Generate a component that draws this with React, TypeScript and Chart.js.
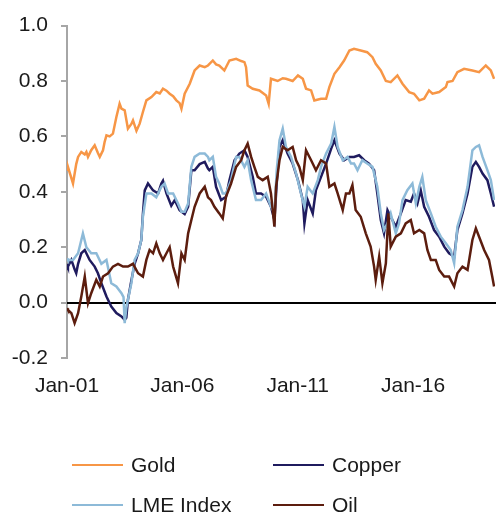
import React, { useEffect, useRef } from "react";
import { Chart, registerables } from "chart.js";

Chart.register(...registerables);

// ---- data (x = years since Jan-2001) ----
const seriesNames = ["Gold", "Copper", "LME Index", "Oil"];
const seriesColors = ["#F79646", "#1F1B5E", "#8DBAD8", "#5C1D0E"];
const tickYears = [0, 5, 10, 15];
const tickLabels = ["Jan-01", "Jan-06", "Jan-11", "Jan-16"];
const yMin = -0.2;
const yMax = 1.0;

const goldT = [0.00,0.04,0.15,0.26,0.40,0.48,0.62,0.77,0.84,0.91,1.05,1.20,1.34,1.42,1.56,1.63,1.71,1.85,1.99,2.14,2.28,2.36,2.50,2.64,2.79,2.86,3.01,3.15,3.29,3.44,3.66,3.87,4.02,4.16,4.31,4.45,4.60,4.74,4.88,4.96,5.10,5.32,5.53,5.75,5.97,6.11,6.32,6.46,6.60,6.82,7.04,7.33,7.55,7.69,7.76,7.83,8.05,8.34,8.63,8.74,8.84,9.13,9.35,9.49,9.78,10.01,10.22,10.36,10.58,10.72,11.01,11.23,11.37,11.59,11.81,12.01,12.24,12.44,12.73,13.01,13.24,13.38,13.60,13.82,14.03,14.32,14.54,14.83,15.04,15.27,15.48,15.69,15.84,16.13,16.42,16.49,16.71,16.92,17.21,17.57,17.86,18.15,18.37,18.51];
const goldV = [0.48,0.49,0.46,0.43,0.50,0.526,0.544,0.535,0.544,0.526,0.55,0.568,0.54,0.526,0.55,0.58,0.604,0.60,0.61,0.67,0.718,0.70,0.694,0.628,0.645,0.658,0.62,0.646,0.688,0.73,0.742,0.76,0.755,0.772,0.765,0.754,0.745,0.73,0.72,0.70,0.754,0.79,0.838,0.856,0.85,0.856,0.874,0.86,0.856,0.838,0.874,0.88,0.872,0.868,0.85,0.784,0.772,0.766,0.748,0.718,0.808,0.80,0.81,0.808,0.80,0.82,0.808,0.772,0.766,0.73,0.736,0.736,0.778,0.826,0.85,0.874,0.91,0.916,0.91,0.904,0.886,0.862,0.838,0.80,0.796,0.82,0.79,0.76,0.754,0.73,0.736,0.766,0.754,0.76,0.778,0.796,0.80,0.832,0.844,0.838,0.832,0.856,0.838,0.808];

const copperT = [0.00,0.04,0.19,0.33,0.40,0.48,0.62,0.77,0.98,1.20,1.34,1.49,1.71,1.92,2.14,2.36,2.50,2.57,2.64,2.79,2.93,3.08,3.22,3.29,3.37,3.51,3.73,3.95,4.09,4.16,4.31,4.52,4.67,4.88,5.10,5.25,5.39,5.53,5.75,5.97,6.11,6.17,6.32,6.46,6.68,6.89,7.04,7.26,7.47,7.69,7.83,8.05,8.19,8.41,8.63,8.84,8.99,9.09,9.21,9.35,9.56,9.78,10.01,10.22,10.29,10.43,10.65,10.79,11.01,11.23,11.45,11.59,11.81,12.01,12.24,12.44,12.66,12.88,13.09,13.31,13.45,13.60,13.74,13.89,14.03,14.25,14.47,14.68,14.90,15.04,15.19,15.33,15.48,15.69,15.91,16.13,16.35,16.56,16.78,16.92,17.14,17.36,17.57,17.72,17.86,18.01,18.22,18.37,18.51];
const copperV = [0.14,0.13,0.154,0.12,0.106,0.14,0.178,0.19,0.154,0.13,0.106,0.07,0.022,-0.014,-0.038,-0.05,-0.062,-0.055,0.01,0.08,0.14,0.178,0.226,0.32,0.405,0.43,0.405,0.394,0.43,0.44,0.394,0.35,0.37,0.334,0.32,0.346,0.478,0.478,0.50,0.508,0.484,0.478,0.49,0.418,0.37,0.382,0.442,0.514,0.538,0.55,0.526,0.454,0.394,0.394,0.382,0.346,0.298,0.43,0.562,0.586,0.538,0.502,0.442,0.37,0.286,0.37,0.322,0.406,0.454,0.502,0.556,0.586,0.538,0.514,0.526,0.526,0.532,0.514,0.502,0.478,0.394,0.298,0.25,0.334,0.31,0.274,0.322,0.37,0.364,0.394,0.358,0.406,0.346,0.31,0.262,0.238,0.202,0.178,0.166,0.262,0.322,0.394,0.49,0.508,0.49,0.466,0.442,0.394,0.346];

const lmeT = [0.00,0.04,0.26,0.48,0.69,0.84,1.05,1.27,1.49,1.71,1.92,2.14,2.36,2.45,2.50,2.57,2.64,2.79,2.93,3.08,3.22,3.29,3.44,3.66,3.87,4.09,4.23,4.38,4.60,4.81,4.96,5.10,5.25,5.39,5.53,5.75,5.97,6.11,6.17,6.32,6.46,6.60,6.75,6.89,7.11,7.33,7.47,7.69,7.83,7.98,8.19,8.41,8.63,8.84,8.99,9.09,9.21,9.35,9.49,9.71,9.93,10.14,10.29,10.43,10.65,10.87,11.01,11.23,11.45,11.59,11.73,11.95,12.16,12.31,12.44,12.59,12.80,13.01,13.24,13.45,13.60,13.74,13.89,14.03,14.25,14.39,14.54,14.75,14.97,15.12,15.27,15.40,15.55,15.77,15.98,16.20,16.42,16.63,16.78,16.92,17.14,17.36,17.57,17.72,17.86,18.01,18.22,18.37,18.51];
const lmeV = [0.16,0.154,0.154,0.178,0.25,0.20,0.178,0.178,0.14,0.154,0.07,0.058,0.034,0.02,-0.074,-0.02,0.01,0.07,0.154,0.178,0.226,0.31,0.394,0.394,0.38,0.418,0.43,0.394,0.394,0.358,0.328,0.328,0.358,0.49,0.526,0.538,0.538,0.526,0.514,0.526,0.454,0.43,0.394,0.394,0.442,0.526,0.526,0.49,0.514,0.442,0.37,0.37,0.394,0.346,0.322,0.478,0.586,0.628,0.562,0.526,0.466,0.394,0.346,0.418,0.394,0.442,0.49,0.538,0.574,0.634,0.562,0.514,0.526,0.502,0.502,0.478,0.514,0.502,0.49,0.418,0.322,0.262,0.286,0.322,0.25,0.286,0.37,0.406,0.43,0.358,0.418,0.454,0.37,0.322,0.274,0.238,0.214,0.19,0.142,0.274,0.334,0.418,0.55,0.562,0.568,0.526,0.478,0.442,0.37];

const oilT = [0.00,0.04,0.19,0.33,0.48,0.62,0.77,0.91,1.05,1.27,1.42,1.56,1.78,1.99,2.21,2.43,2.64,2.86,3.08,3.29,3.44,3.58,3.73,3.87,4.02,4.16,4.31,4.45,4.60,4.81,4.96,5.10,5.25,5.39,5.53,5.75,5.97,6.11,6.24,6.39,6.60,6.75,6.89,7.11,7.33,7.55,7.69,7.83,7.98,8.12,8.27,8.48,8.70,8.84,8.99,9.06,9.21,9.35,9.56,9.78,9.93,10.07,10.22,10.36,10.58,10.79,11.01,11.23,11.37,11.59,11.73,11.95,12.09,12.24,12.37,12.51,12.73,12.95,13.16,13.31,13.38,13.53,13.67,13.82,13.93,14.03,14.25,14.47,14.68,14.90,15.04,15.27,15.48,15.62,15.77,15.98,16.13,16.35,16.56,16.78,16.92,17.14,17.36,17.57,17.72,17.86,18.08,18.29,18.43,18.51];
const oilV = [-0.02,-0.026,-0.038,-0.074,-0.038,0.022,0.094,-0.002,0.034,0.082,0.058,0.094,0.106,0.13,0.14,0.13,0.13,0.14,0.106,0.094,0.154,0.19,0.178,0.214,0.178,0.154,0.178,0.2,0.13,0.07,0.178,0.154,0.25,0.298,0.346,0.394,0.418,0.38,0.37,0.346,0.322,0.304,0.382,0.43,0.49,0.514,0.55,0.574,0.526,0.49,0.454,0.442,0.454,0.394,0.274,0.418,0.514,0.562,0.55,0.562,0.514,0.49,0.442,0.55,0.514,0.478,0.514,0.502,0.418,0.43,0.394,0.334,0.394,0.394,0.424,0.334,0.31,0.25,0.202,0.13,0.082,0.166,0.07,0.142,0.322,0.202,0.238,0.25,0.286,0.298,0.25,0.262,0.25,0.19,0.154,0.154,0.118,0.094,0.094,0.058,0.106,0.13,0.118,0.226,0.268,0.238,0.19,0.154,0.094,0.058];

const seriesT = [goldT, copperT, lmeT, oilT];
const seriesV = [goldV, copperV, lmeV, oilV];
const drawOrder = [3, 2, 1, 0]; // oil on top

const FONT = "'Liberation Sans', Arial, sans-serif";

const zeroLine = {
  id: "zeroLine",
  beforeDatasetsDraw(chart: any) {
    const { ctx, chartArea, scales } = chart;
    const y = Math.round(scales.y.getPixelForValue(0));
    ctx.save();
    ctx.strokeStyle = "#000000";
    ctx.lineWidth = 2;
    ctx.beginPath();
    ctx.moveTo(chartArea.left, y);
    ctx.lineTo(chart.width, y);
    ctx.stroke();
    ctx.restore();
  },
};

const customLegend = {
  id: "customLegend",
  afterDraw(chart: any) {
    const { ctx } = chart;
    const cols = [72, 273];
    const rows = [465, 505];
    ctx.save();
    ctx.font = `21px ${FONT}`;
    ctx.textBaseline = "middle";
    ctx.textAlign = "left";
    chart.data.datasets.forEach((ds: any, i: number) => {
      const x = cols[i % 2];
      const y = rows[Math.floor(i / 2)];
      ctx.strokeStyle = ds.borderColor;
      ctx.lineWidth = 2;
      ctx.beginPath();
      ctx.moveTo(x, y);
      ctx.lineTo(x + 51, y);
      ctx.stroke();
      ctx.fillStyle = "#1a1a1a";
      ctx.fillText(ds.label, x + 59, y + 1);
    });
    ctx.restore();
  },
};

export default function App() {
  const ref = useRef<HTMLCanvasElement | null>(null);
  useEffect(() => {
    document.body.style.margin = "0";
    const canvas = ref.current;
    if (!canvas) return;
    const datasets = seriesNames.map((name, i) => ({
      label: name,
      data: seriesT[i].map((t, k) => ({ x: t, y: seriesV[i][k] })),
      borderColor: seriesColors[i],
      backgroundColor: seriesColors[i],
      borderWidth: 2.5,
      pointRadius: 0,
      tension: 0,
      order: drawOrder[i],
    }));
    const chart = new Chart(canvas, {
      type: "line",
      data: { datasets },
      plugins: [zeroLine, customLegend],
      options: {
        animation: false,
        responsive: false,
        devicePixelRatio: 1,
        layout: { padding: { left: 0, right: 1, top: 25, bottom: 0 } },
        plugins: { legend: { display: false }, tooltip: { enabled: false } },
        scales: {
          x: {
            type: "linear",
            min: 0,
            max: 18.55,
            grid: { display: false, drawTicks: false },
            border: { display: false },
            afterBuildTicks: (s: any) => {
              s.ticks = tickYears.map((v) => ({ value: v }));
            },
            afterFit: (s: any) => {
              s.height = 155;
            },
            ticks: {
              autoSkip: false,
              maxRotation: 0,
              padding: 16,
              color: "#1a1a1a",
              font: { family: FONT, size: 21 },
              callback: (v: any) => {
                const idx = tickYears.indexOf(Number(v));
                return idx >= 0 ? tickLabels[idx] : "";
              },
            },
          },
          y: {
            min: yMin,
            max: yMax,
            afterFit: (s: any) => {
              s.width = 67;
            },
            grid: {
              drawOnChartArea: false,
              drawTicks: true,
              tickLength: 6,
              color: "#A6A6A6",
              lineWidth: 2,
            },
            border: { display: true, color: "#A6A6A6", width: 2 },
            ticks: {
              stepSize: 0.2,
              padding: 13,
              color: "#1a1a1a",
              font: { family: FONT, size: 21 },
              callback: (v: any) => {
                const n = Math.abs(Number(v)) < 1e-9 ? 0 : Number(v);
                return n.toFixed(1);
              },
            },
          },
        },
      },
    });
    return () => chart.destroy();
  }, []);
  return (
    <div style={{ position: "absolute", left: 0, top: 0 }}>
      <canvas ref={ref} width={496} height={513} style={{ display: "block", width: 496, height: 513 }} />
    </div>
  );
}
